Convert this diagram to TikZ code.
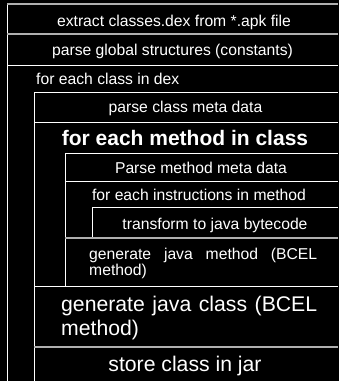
\documentclass[tikz,border=0pt]{standalone}
\usepackage{fontspec}
\setmainfont{Liberation Sans}
\definecolor{rulegray}{RGB}{175,175,175}
\begin{document}
\begin{tikzpicture}[x=1pt,y=-1pt,
  rule/.style={draw=white,line width=1pt},
  softrule/.style={draw=rulegray,line width=1.4pt},
  txt/.style={text=white,inner sep=0pt,anchor=base,font=\fontsize{15.7}{16}\selectfont},
  bigtxt/.style={text=white,inner sep=0pt,anchor=base,font=\fontsize{21.2}{24}\selectfont},
  boldtxt/.style={bigtxt,font=\fontsize{21}{24}\selectfont\bfseries}]
  % canvas
  \fill[black] (0,0) rectangle (339,381);
  \useasboundingbox (0,0) rectangle (339,381);

  % nesting columns of the structogram
  \draw[rule] (7,4) -- (7,381);
  \draw[rule] (34,92) -- (34,381);
  \draw[rule] (65,153) -- (65,286);
  \draw[rule] (92,207) -- (92,238);

  % block separators
  \draw[softrule] (7,4) -- (338,4);
  \draw[softrule] (7,34) -- (338,34);
  \draw[rule] (7,65) -- (338,65);
  \draw[rule] (34,92) -- (338,92);
  \draw[rule] (34,122) -- (338,122);
  \draw[rule] (65,153) -- (338,153);
  \draw[rule] (65,181) -- (338,181);
  \draw[rule] (92,207) -- (338,207);
  \draw[softrule] (65,238) -- (338,238);
  \draw[rule] (34,286) -- (338,286);
  \draw[softrule] (34,347) -- (338,347);

  % statements
  \node[txt] (extract) at (174,26) {extract classes.dex from *.apk file};
  \node[txt] (globals) at (172.5,55) {parse global structures (constants)};
  \node[txt,anchor=base west] (classloop) at (36,84) {for each class in dex};
  \node[txt] (classmeta) at (185.5,112.5) {parse class meta data};
  \node[boldtxt] (methodloop) at (185,145) {for each method in class};
  \node[txt] (methodmeta) at (201,173) {Parse method meta data};
  \node[txt] (insnloop) at (199,200) {for each instructions in method};
  \node[txt] (transform) at (215,229) {transform to java bytecode};
  \node[txt,anchor=base west] (genmethod) at (89,259)
    {\parbox[t]{228pt}{generate java method (BCEL method)}};
  \node[bigtxt,anchor=base west] (genclass) at (61,311)
    {\parbox[t]{256pt}{generate java class (BCEL method)}};
  \node[bigtxt] (store) at (185,371) {store class in jar};
\end{tikzpicture}
\end{document}
